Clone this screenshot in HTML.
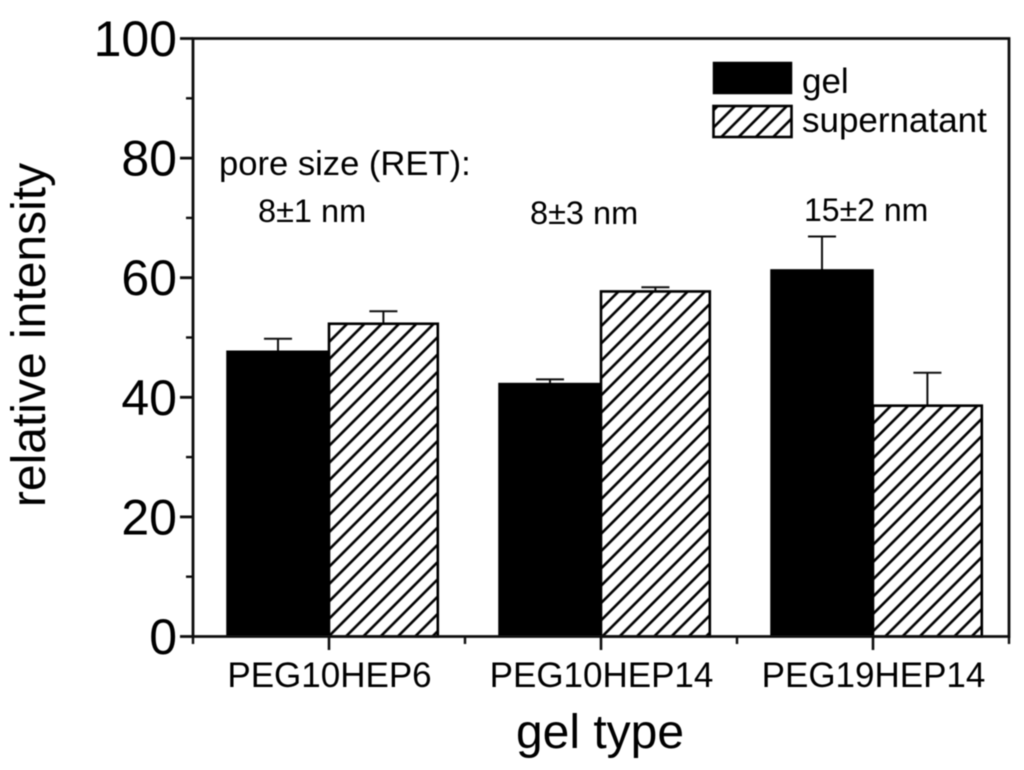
<!DOCTYPE html>
<html>
<head>
<meta charset="utf-8">
<style>
html,body{margin:0;padding:0;background:#fff;}
svg{display:block;font-family:"Liberation Sans",sans-serif;}
text{fill:#000;}
</style>
</head>
<body>
<svg id="chart" width="1024" height="770" viewBox="0 0 1024 770" xmlns="http://www.w3.org/2000/svg">
<defs>
<filter id="soft" x="-2%" y="-2%" width="104%" height="104%"><feGaussianBlur stdDeviation="0.55"/></filter>
</defs>
<rect width="1024" height="770" fill="#fff"/>
<g id="root" filter="url(#soft)"></g>
</svg>
<script>
const categories = ['PEG10HEP6', 'PEG10HEP14', 'PEG19HEP14'];
const gelValues = [47.7, 42.3, 61.3];
const gelErrors = [2.1, 0.7, 5.6];
const supernatantValues = [52.3, 57.7, 38.6];
const supernatantErrors = [2.1, 0.7, 5.5];
const yMajorTicks = [0, 20, 40, 60, 80, 100];
const yMinorTicks = [10, 30, 50, 70, 90];
const xMinorTicks = [0.5, 1.5, 2.5, 3.5];

const NS = 'http://www.w3.org/2000/svg';
const root = document.getElementById('root');
const defs = document.querySelector('defs');

function xScale(v) { return 329 + (v - 1) * 272; }
function yScale(v) { return 636.5 - v * 5.98; }

function make(tag, attrs, parent) {
  const el = document.createElementNS(NS, tag);
  for (const k in attrs) el.setAttribute(k, attrs[k]);
  (parent || root).appendChild(el);
  return el;
}

function hatch(id, phase) {
  const p = make('pattern', {
    id: id, patternUnits: 'userSpaceOnUse', width: 17.3, height: 17.3,
    patternTransform: 'translate(' + phase + ',0)'
  }, defs);
  make('path', {
    d: 'M-2,2 L2,-2 M-2,19.3 L19.3,-2 M15.3,19.3 L19.3,15.3',
    stroke: '#000', 'stroke-width': 2.6, fill: 'none'
  }, p);
}
const hatchPhases = [13.6, 10.4, 16.5];
hatchPhases.forEach(function (ph, i) { hatch('hatch' + i, ph); });
hatch('hatchLegend', 10.6);

function errorBar(cx, value, err, name) {
  const g = make('g', {});
  
  
  const yTop = yScale(value + err);
  make('line', { x1: cx, x2: cx, y1: yScale(value), y2: yTop, stroke: '#111', 'stroke-width': 2 }, g);
  make('line', { x1: cx - 14, x2: cx + 14, y1: yTop, y2: yTop, stroke: '#111', 'stroke-width': 2 }, g);
}

categories.forEach(function (cat, i) {
  const c = xScale(i + 1);
  const gelLeft = xScale(i + 1 - 0.375);
  const supRight = xScale(i + 1 + 0.4);

  errorBar((gelLeft + c) / 2, gelValues[i], gelErrors[i], 'gel-error-bar-' + (i + 1));
  errorBar((c + supRight) / 2, supernatantValues[i], supernatantErrors[i], 'supernatant-error-bar-' + (i + 1));

  const gel = make('rect', {
    x: gelLeft, y: yScale(gelValues[i]), width: c - gelLeft,
    height: yScale(0) - yScale(gelValues[i]),
    fill: '#000', stroke: '#000', 'stroke-width': 1.5
  });
  
  

  const sup = make('rect', {
    x: c, y: yScale(supernatantValues[i]), width: supRight - c,
    height: yScale(0) - yScale(supernatantValues[i]),
    fill: 'url(#hatch' + i + ')', stroke: '#000', 'stroke-width': 2.6
  });
  
  

  const lab = make('text', { x: c + 0.5, y: 687, 'text-anchor': 'middle', 'font-size': 35 });
  lab.textContent = cat;
  
  

  const t = make('line', { x1: c, x2: c, y1: 636.5, y2: 650, stroke: '#111', 'stroke-width': 2.6 });
  
  
});

const frame = make('path', {
  d: 'M193,' + yScale(0) + ' V' + yScale(100) + ' H1009 V' + yScale(0) + ' H193 Z',
  fill: 'none', stroke: '#111', 'stroke-width': 2.8
});



yMajorTicks.forEach(function (v) {
  const y = yScale(v);
  const t = make('line', { x1: 180, x2: 193, y1: y, y2: y, stroke: '#111', 'stroke-width': 2.8 });
  
  
  const lab = make('text', { x: 177, y: y + 17.5, 'text-anchor': 'end', 'font-size': 50 });
  lab.textContent = String(v);
  
  
});

yMinorTicks.forEach(function (v) {
  const y = yScale(v);
  const t = make('line', { x1: 186, x2: 193, y1: y, y2: y, stroke: '#111', 'stroke-width': 2.4 });
  
  
});

xMinorTicks.forEach(function (v) {
  const x = xScale(v);
  const t = make('line', { x1: x, x2: x, y1: 636.5, y2: 644, stroke: '#111', 'stroke-width': 2.4 });
  
  
});

function label(str, x, y, size, name, extra) {
  const el = make('text', Object.assign({ x: x, y: y, 'font-size': size }, extra || {}));
  el.textContent = str;
  
  
  return el;
}

label('relative intensity', 0, 0, 48, 'y-axis-title', {
  transform: 'translate(45,335) rotate(-90)', 'text-anchor': 'middle', x: 0, y: 0
});
label('gel type', 600, 748, 48, 'x-axis-title', { 'text-anchor': 'middle' });
label('pore size (RET):', 219, 175, 34.6, 'pore-size-heading');
label('8\u00b11 nm', 258, 222, 32.5, 'pore-size-peg10hep6');
label('8\u00b13 nm', 530, 224, 32.5, 'pore-size-peg10hep14');
label('15\u00b12 nm', 804, 221, 32, 'pore-size-peg19hep14');

const legendGel = make('rect', { x: 713.5, y: 62.5, width: 78, height: 31, fill: '#000', stroke: '#000', 'stroke-width': 1.5 });


const legendSup = make('rect', { x: 713.5, y: 106, width: 78, height: 31, fill: 'url(#hatchLegend)', stroke: '#000', 'stroke-width': 2.6 });


label('gel', 802, 93, 35, 'legend-label-gel');
label('supernatant', 802, 132, 35, 'legend-label-supernatant');
</script>
</body>
</html>
